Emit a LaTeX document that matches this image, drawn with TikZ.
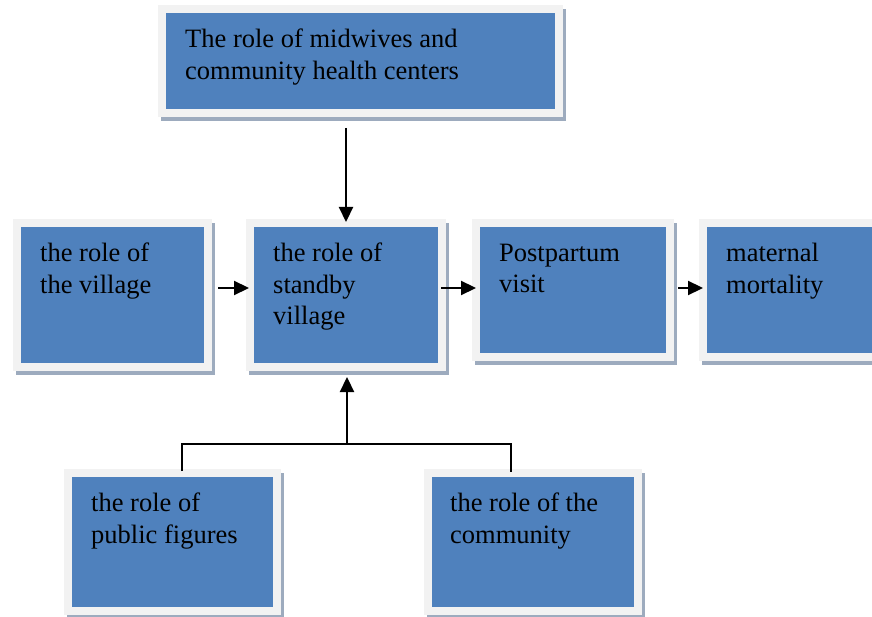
\documentclass[tikz,border=0pt]{standalone}
\usepackage{fontspec}
\setmainfont{Liberation Serif}
\usetikzlibrary{arrows.meta}
\definecolor{boxblue}{HTML}{4F81BD}
\definecolor{framegray}{HTML}{F2F2F2}
\definecolor{shadowc}{HTML}{9DABBE}
\tikzset{
  bx/.style={fill=boxblue, draw=framegray, line width=8pt, inner sep=0pt, outer sep=0pt,
    preaction={draw=shadowc, fill=shadowc, line width=8pt, transform canvas={shift={(3pt,-4pt)}}}},
  txt/.style={font=\fontsize{26.5}{31.5}\selectfont, align=left, inner sep=0pt, anchor=north west, text=black},
  arr/.style={line width=2.2pt, -{Triangle[length=15pt,width=14pt]}},
  ln/.style={line width=2.2pt}
}
\begin{document}
\begin{tikzpicture}[x=1pt,y=-1pt]
\useasboundingbox (0,0) rectangle (872,617);
% boxes (path rectangles)
\node[bx, minimum width=397pt, minimum height=104pt] (mid) at (360.5,61) {};
\node[bx, minimum width=191pt, minimum height=144pt] (vil) at (112.5,295) {};
\node[bx, minimum width=192pt, minimum height=144pt] (stb) at (346,295) {};
\node[bx, minimum width=194pt, minimum height=134pt] (post) at (573,290) {};
\node[bx, minimum width=181pt, minimum height=134pt] (mat) at (793.5,290) {};
\node[bx, minimum width=209pt, minimum height=138pt] (pub) at (172.5,542) {};
\node[bx, minimum width=210pt, minimum height=138pt] (com) at (533,542) {};
% texts
\node[txt] (midT) at ([shift={(23,20)}]mid.north west) {The role of midwives and\\community health centers};
\node[txt] (vilT) at ([shift={(23,20)}]vil.north west) {the role of\\the village};
\node[txt] (stbT) at ([shift={(23,20)}]stb.north west) {the role of\\standby\\village};
\node[txt] (postT) at ([shift={(23,20.5)}]post.north west) {Postpartum\\visit};
\node[txt] (matT) at ([shift={(23,20)}]mat.north west) {maternal\\mortality};
\node[txt] (pubT) at ([shift={(23,20)}]pub.north west) {the role of\\public figures};
\node[txt] (comT) at ([shift={(22,20)}]com.north west) {the role of the\\community};
% connectors
\draw[arr] ([yshift=-15pt]mid.south -| stb.north) -- ([yshift=1pt]stb.north);
\draw[arr] ([xshift=10pt,yshift=7pt]vil.east) -- ([xshift=-1pt,yshift=7pt]stb.west);
\draw[arr] ([xshift=-1pt,yshift=7pt]stb.east) -- ([yshift=2pt]post.west);
\draw[arr] ([xshift=8pt,yshift=2pt]post.east) -- ([yshift=2pt]mat.west);
\coordinate (jn) at (347,444);
\draw[ln] ([xshift=9.5pt,yshift=2pt]pub.north) |- (jn) -| ([xshift=-22pt,yshift=1pt]com.north);
\draw[arr] (jn) -- ([yshift=-10pt]stb.south -| jn);
\end{tikzpicture}
\end{document}
